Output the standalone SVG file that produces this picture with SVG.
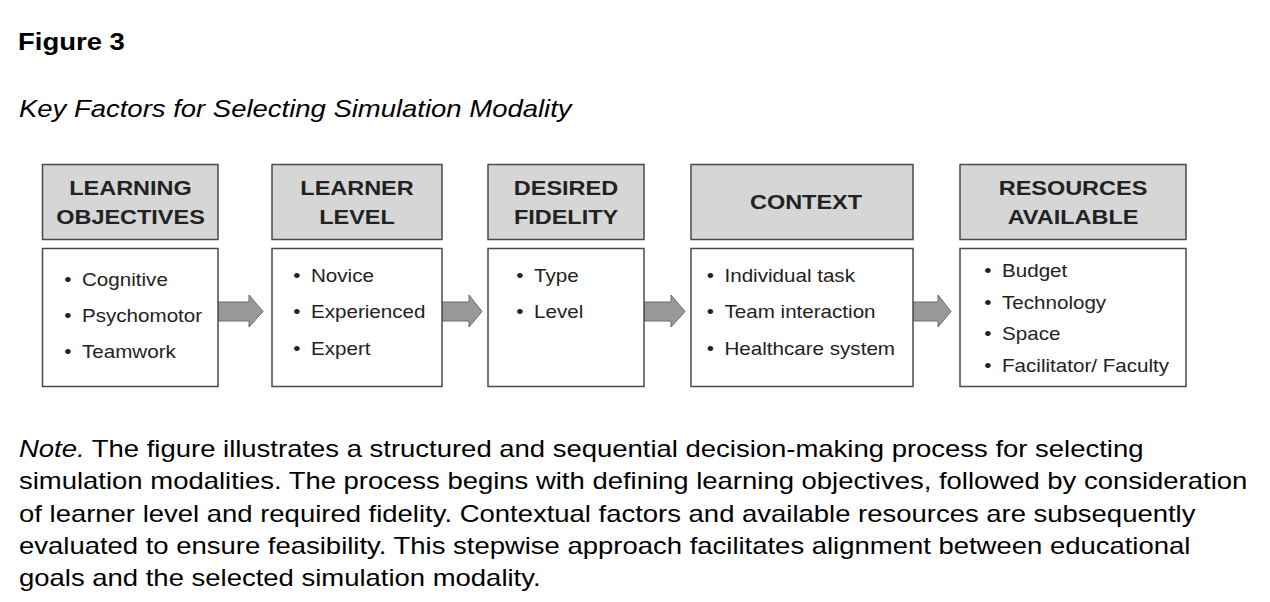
<svg xmlns="http://www.w3.org/2000/svg" width="1270" height="602" viewBox="0 0 1270 602">
<style>
.hd{fill:#d6d6d6;stroke:#4a4a4a;stroke-width:1.5}
.bd{fill:#fff;stroke:#4a4a4a;stroke-width:1.5}
.ht{font-family:"Liberation Sans",Arial,sans-serif;font-weight:bold;font-size:20.5px;fill:#222;text-anchor:middle}
.bt{font-family:"Liberation Sans",Arial,sans-serif;font-size:18px;fill:#222}
.arr{fill:#999;stroke:#6a6a6a;stroke-width:1}
.cap{font-family:"Liberation Sans",Arial,sans-serif;font-size:24px;fill:#000}
</style>
<rect width="1270" height="602" fill="#fff"/>
<text transform="translate(18,50) scale(1.145 1)" class="cap" font-weight="bold">Figure 3</text>
<text transform="translate(19,117) scale(1.145 1)" class="cap" font-style="italic">Key Factors for Selecting Simulation Modality</text>

<g id="connectors">
<path class="arr" d="M218,302 H249 V295 L263,311.5 L249,327 V321 H218 Z"/>
<path class="arr" d="M442,302 H469 V295 L482,311.5 L469,327 V321 H442 Z"/>
<path class="arr" d="M644,302 H671 V295 L685,311.5 L671,327 V321 H644 Z"/>
<path class="arr" d="M913,302 H938 V295 L951,311.5 L938,327 V321 H913 Z"/>
</g>

<g id="learning-objectives">
<rect class="hd" x="42.5" y="164.5" width="175.5" height="75"/>
<text class="ht" transform="translate(130.5,195) scale(1.145 1)">LEARNING</text>
<text class="ht" transform="translate(130.5,224) scale(1.145 1)">OBJECTIVES</text>
<rect class="bd" x="42.5" y="248.5" width="175.5" height="138"/>
<text class="bt" transform="translate(82,286) scale(1.145 1)"><tspan x="-15.4">•</tspan><tspan x="0">Cognitive</tspan></text>
<text class="bt" transform="translate(82,322) scale(1.145 1)"><tspan x="-15.4">•</tspan><tspan x="0">Psychomotor</tspan></text>
<text class="bt" transform="translate(82,358) scale(1.145 1)"><tspan x="-15.4">•</tspan><tspan x="0">Teamwork</tspan></text>
</g>

<g id="learner-level">
<rect class="hd" x="272" y="164.5" width="170" height="75"/>
<text class="ht" transform="translate(357,195) scale(1.145 1)">LEARNER</text>
<text class="ht" transform="translate(357,224) scale(1.145 1)">LEVEL</text>
<rect class="bd" x="272" y="248.5" width="170" height="138"/>
<text class="bt" transform="translate(311,282) scale(1.145 1)"><tspan x="-15.4">•</tspan><tspan x="0">Novice</tspan></text>
<text class="bt" transform="translate(311,318) scale(1.145 1)"><tspan x="-15.4">•</tspan><tspan x="0">Experienced</tspan></text>
<text class="bt" transform="translate(311,355) scale(1.145 1)"><tspan x="-15.4">•</tspan><tspan x="0">Expert</tspan></text>
</g>

<g id="desired-fidelity">
<rect class="hd" x="488" y="164.5" width="156" height="75"/>
<text class="ht" transform="translate(566,195) scale(1.145 1)">DESIRED</text>
<text class="ht" transform="translate(566,224) scale(1.145 1)">FIDELITY</text>
<rect class="bd" x="488" y="248.5" width="156" height="138"/>
<text class="bt" transform="translate(534,282) scale(1.145 1)"><tspan x="-15.4">•</tspan><tspan x="0">Type</tspan></text>
<text class="bt" transform="translate(534,318) scale(1.145 1)"><tspan x="-15.4">•</tspan><tspan x="0">Level</tspan></text>
</g>

<g id="context">
<rect class="hd" x="691" y="164.5" width="222" height="75"/>
<text class="ht" transform="translate(806,209) scale(1.145 1)">CONTEXT</text>
<rect class="bd" x="691" y="248.5" width="222" height="138"/>
<text class="bt" transform="translate(724.5,282) scale(1.145 1)"><tspan x="-15.4">•</tspan><tspan x="0">Individual task</tspan></text>
<text class="bt" transform="translate(724.5,318) scale(1.145 1)"><tspan x="-15.4">•</tspan><tspan x="0">Team interaction</tspan></text>
<text class="bt" transform="translate(724.5,355) scale(1.145 1)"><tspan x="-15.4">•</tspan><tspan x="0">Healthcare system</tspan></text>
</g>

<g id="resources-available">
<rect class="hd" x="960" y="164.5" width="226" height="75"/>
<text class="ht" transform="translate(1073,195) scale(1.145 1)">RESOURCES</text>
<text class="ht" transform="translate(1073,224) scale(1.145 1)">AVAILABLE</text>
<rect class="bd" x="960" y="248.5" width="226" height="138"/>
<text class="bt" transform="translate(1002,277) scale(1.145 1)"><tspan x="-15.4">•</tspan><tspan x="0">Budget</tspan></text>
<text class="bt" transform="translate(1002,309) scale(1.145 1)"><tspan x="-15.4">•</tspan><tspan x="0">Technology</tspan></text>
<text class="bt" transform="translate(1002,340) scale(1.145 1)"><tspan x="-15.4">•</tspan><tspan x="0">Space</tspan></text>
<text class="bt" transform="translate(1002,372) scale(1.145 1)"><tspan x="-15.4">•</tspan><tspan x="0">Facilitator/ Faculty</tspan></text>
</g>

<g id="note">
<text class="cap" transform="translate(19,457) scale(1.145 1)"><tspan font-style="italic">Note.</tspan> The figure illustrates a structured and sequential decision-making process for selecting</text>
<text class="cap" transform="translate(19,489) scale(1.145 1)">simulation modalities. The process begins with defining learning objectives, followed by consideration</text>
<text class="cap" transform="translate(19,522) scale(1.145 1)">of learner level and required fidelity. Contextual factors and available resources are subsequently</text>
<text class="cap" transform="translate(19,554) scale(1.145 1)">evaluated to ensure feasibility. This stepwise approach facilitates alignment between educational</text>
<text class="cap" transform="translate(19,586) scale(1.145 1)">goals and the selected simulation modality.</text>
</g>
</svg>
